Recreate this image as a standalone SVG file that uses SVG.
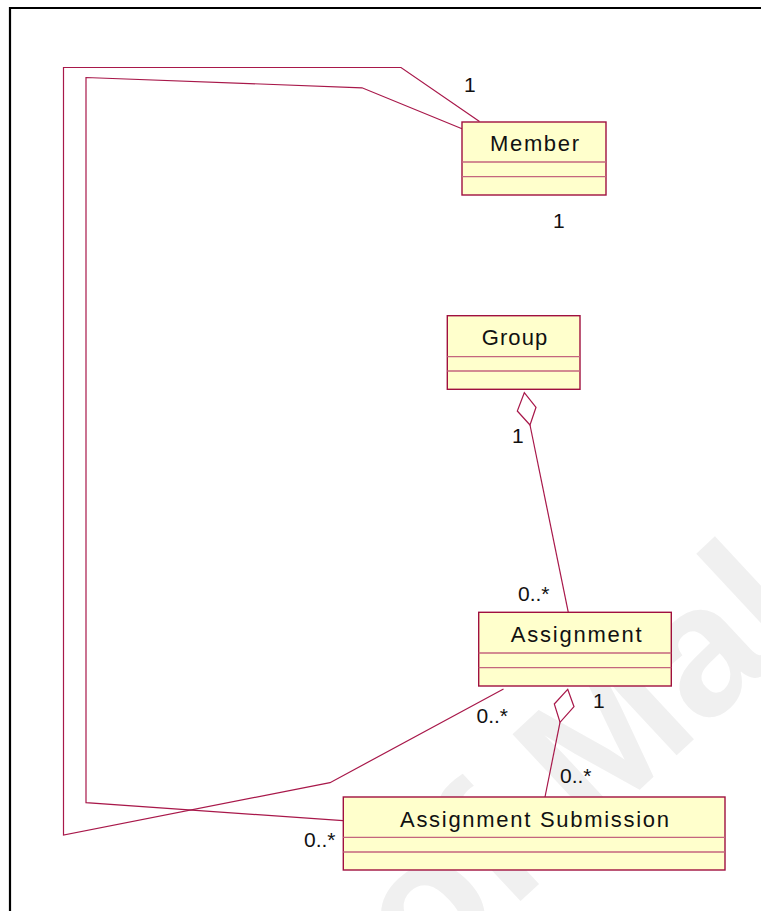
<svg xmlns="http://www.w3.org/2000/svg" width="761" height="911" viewBox="0 0 761 911">
  <style>
    .frame { fill: none; stroke: #000; stroke-width: 2.2; }
    .box { fill: #ffffcc; stroke: #a0103f; stroke-width: 1.4; }
    .div { stroke: #c4667e; stroke-width: 1.3; }
    .title { font-family: "Liberation Sans", Arial, sans-serif; font-size: 22px; fill: #111; text-anchor: middle; }
    .lbl { font-family: "Liberation Sans", Arial, sans-serif; font-size: 21px; fill: #111; }
    .assoc { fill: none; stroke: #a8184a; stroke-width: 1.2; }
    .diamond { fill: #fff; stroke: #a8184a; stroke-width: 1.2; }
    .wm { font-family: "Liberation Sans", Arial, sans-serif; font-size: 185px; font-weight: bold; fill: #f0f0f0; }
  </style>

  <rect width="761" height="911" fill="#fff"/>

  <!-- background watermark -->
  <text class="wm" transform="translate(425 990) rotate(-43)">of Mala</text>

  <!-- page frame (left and top edges) -->
  <path class="frame" d="M10 911 V8 H761"/>

  <!-- associations -->
  <g id="connectors">
    <polyline class="assoc" points="479.5,121.5 401,67.5 63.5,67.5 63.5,835 330,782.7 503.5,689"/>
    <polyline class="assoc" points="462,128.7 362,87.8 86,77.5 86,802.7 343,820.7"/>
    <line class="assoc" x1="530" y1="425" x2="568.3" y2="612.3"/>
    <polygon class="diamond" points="524.3,392.7 536,407.3 530,425 517.3,411"/>
    <line class="assoc" x1="560" y1="722.3" x2="545" y2="797"/>
    <polygon class="diamond" points="567.7,689.3 574,706.7 560,722.3 554.3,704"/>
  </g>

  <!-- multiplicity labels -->
  <g id="labels">
    <text class="lbl" x="464" y="92.3">1</text>
    <text class="lbl" x="553" y="228.3">1</text>
    <text class="lbl" x="512" y="443.3">1</text>
    <text class="lbl" x="518" y="600.7">0..*</text>
    <text class="lbl" x="476.5" y="723.3">0..*</text>
    <text class="lbl" x="593" y="708">1</text>
    <text class="lbl" x="560" y="782.7">0..*</text>
    <text class="lbl" x="304" y="847.3">0..*</text>
  </g>

  <g id="member">
    <rect class="box" x="462" y="122" width="144" height="73"/>
    <line class="div" x1="462" y1="162" x2="606" y2="162"/>
    <line class="div" x1="462" y1="176.7" x2="606" y2="176.7"/>
    <text class="title" x="534.5" y="150.7" textLength="89" lengthAdjust="spacing">Member</text>
  </g>

  <g id="group">
    <rect class="box" x="447.3" y="315.7" width="132.7" height="73.6"/>
    <line class="div" x1="447.3" y1="356.7" x2="580" y2="356.7"/>
    <line class="div" x1="447.3" y1="371" x2="580" y2="371"/>
    <text class="title" x="514.5" y="345" textLength="65.6" lengthAdjust="spacing">Group</text>
  </g>

  <g id="assignment">
    <rect class="box" x="478.7" y="612.3" width="192.6" height="73.7"/>
    <line class="div" x1="478.7" y1="653" x2="671.3" y2="653"/>
    <line class="div" x1="478.7" y1="667.7" x2="671.3" y2="667.7"/>
    <text class="title" x="576.2" y="641.7" textLength="131" lengthAdjust="spacing">Assignment</text>
  </g>

  <g id="assignment-submission">
    <rect class="box" x="343.3" y="797" width="381.7" height="73"/>
    <line class="div" x1="343.3" y1="837.3" x2="725" y2="837.3"/>
    <line class="div" x1="343.3" y1="852" x2="725" y2="852"/>
    <text class="title" x="534.5" y="826.7" textLength="269" lengthAdjust="spacing">Assignment Submission</text>
  </g>
</svg>
